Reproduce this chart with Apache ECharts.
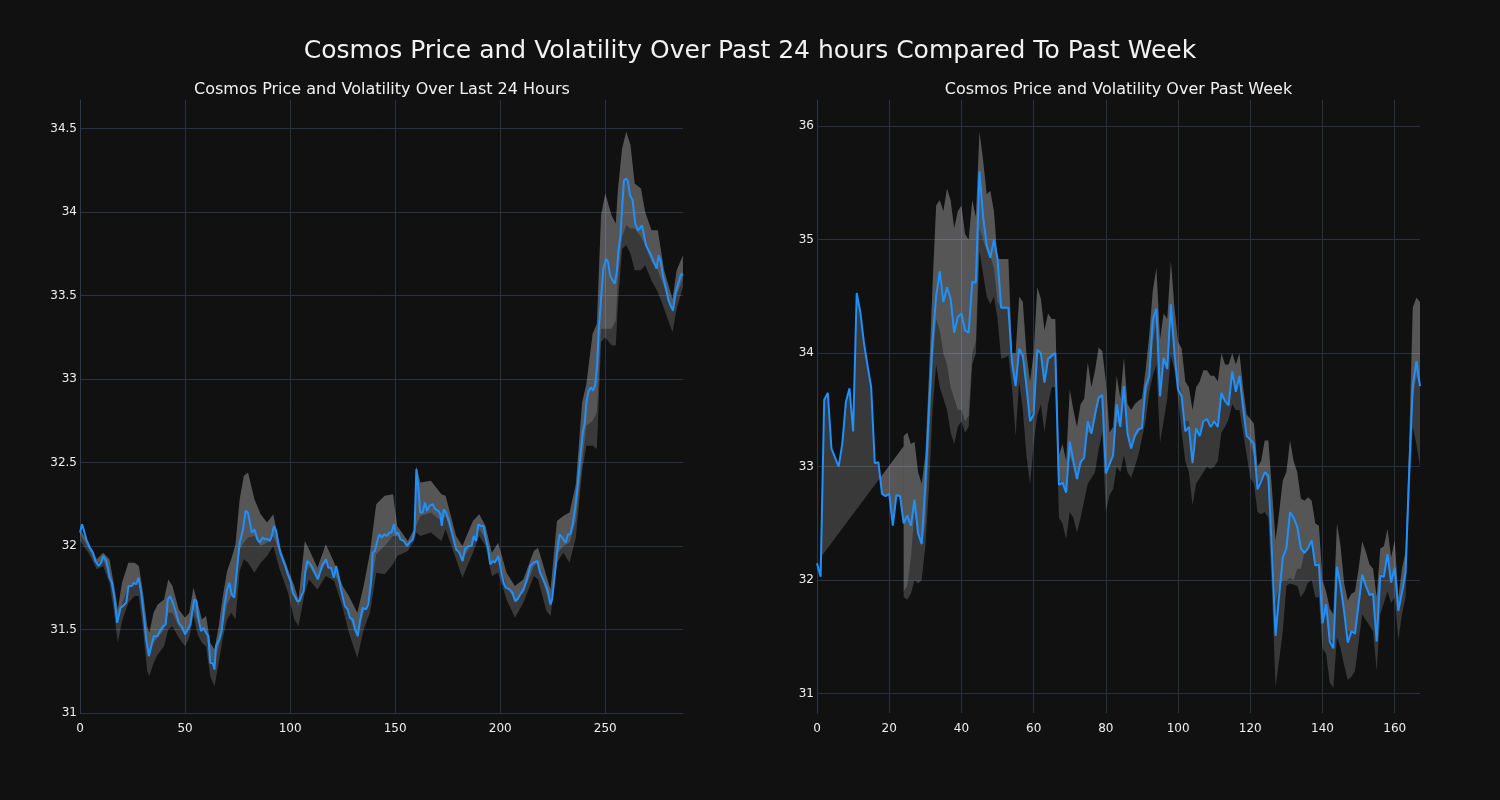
<!DOCTYPE html>
<html>
<head>
<meta charset="utf-8">
<script src="https://cdn.jsdelivr.net/npm/echarts@6/dist/echarts.min.js"></script>
<style>
html,body{margin:0;padding:0;background:#111111;}
#chart{width:1500px;height:800px;}
</style>
</head>
<body>
<div id="chart"></div>
<script>
// ---------- Titles ----------
const mainTitle = 'Cosmos Price and Volatility Over Past 24 hours Compared To Past Week';
const dayTitle = 'Cosmos Price and Volatility Over Last 24 Hours';
const weekTitle = 'Cosmos Price and Volatility Over Past Week';

// ---------- Tick labels ----------
const dayXTicks = [0, 50, 100, 150, 200, 250];
const dayYTicks = [31, 31.5, 32, 32.5, 33, 33.5, 34, 34.5];
const weekXTicks = [0, 20, 40, 60, 80, 100, 120, 140, 160];
const weekYTicks = [31, 32, 33, 34, 35, 36];

// ---------- Last 24 hours (5-minute steps) ----------
const dayX = [0,1,1.9,3,4.6,6.2,7.3,8.9,10.1,11.1,12.5,14.1,15.2,16.5,17.7,18.4,19.3,20.4,22,23.1,24.7,25.6,26.7,27.9,29.1,30.4,31.5,32.8,33.9,35.1,36.7,38,39.6,40.8,41.8,42.9,44.2,45.7,47,48.4,50,51.3,52.5,53.7,54.4,55.4,56.3,57.6,58.9,60,61.1,62,63.2,64,64.7,66.3,67.4,68.7,70,71.1,72.2,73.4,74.9,76,77.6,78.8,79.9,81.2,81.8,83.1,84.4,85.6,86.9,88.2,89.4,90.4,91.3,92.3,93.4,94.2,95.3,96.5,97.7,98.9,100.2,101.3,102.1,103.4,104.5,105.3,106.4,107.2,108.1,109.7,111,112.1,113.2,114.4,115.5,117.1,118.2,119.5,120.8,121.9,123,124.2,125,126.1,127.4,128.5,129.8,130.9,132.2,133.4,134.5,136.1,137.2,138.5,139.3,140.4,141.7,142.5,143.6,144.8,146.1,147.2,148.3,149.4,150.3,151.3,152.5,154.1,155.7,156.8,158.4,159.2,160.1,161.1,161.9,163.1,164.2,165.2,166.3,167.9,169.1,170.6,171.5,172.2,173.1,174.2,175.8,177.4,179,180.5,182.1,183.2,184.8,186.4,187.4,188.5,189.6,190.8,192.1,193.2,194.3,195.3,196.4,197.5,199.1,200.3,201.6,202.7,204.3,205.9,207.1,208.2,209.5,211.1,212.7,214.3,215.8,217.7,219,220.8,222.4,223.9,224.7,226,227.1,228.2,229.5,230.3,231.1,232.3,233.4,234.5,235.8,237.1,238.2,239.3,240.2,241,242.1,243.2,244.2,245.3,246.1,246.9,248,249.1,250.4,251.3,252.3,253.5,254.5,255.4,256.4,257.2,258,258.9,259.9,260.8,261.8,263,264.3,265.6,266.5,267.5,268.4,269.4,270.6,272.2,273.5,274.4,275.4,276.3,277.6,278.9,280.1,281.4,282.3,283.3,284.2,285.2,286.1,287];
const dayPrice = [32.08,32.13,32.14,32.04,31.99,31.96,31.91,31.88,31.9,31.94,31.91,31.81,31.78,31.68,31.54,31.54,31.63,31.64,31.66,31.76,31.76,31.78,31.77,31.81,31.72,31.58,31.44,31.34,31.4,31.46,31.46,31.49,31.52,31.53,31.68,31.7,31.66,31.6,31.54,31.52,31.47,31.5,31.53,31.63,31.68,31.67,31.57,31.49,31.51,31.48,31.46,31.3,31.3,31.26,31.4,31.44,31.49,31.64,31.74,31.78,31.71,31.69,31.88,32.02,32.1,32.21,32.2,32.12,32.08,32.1,32.04,32.02,32.05,32.04,32.04,32.03,32.06,32.12,32.09,32.03,31.96,31.92,31.88,31.83,31.79,31.72,31.71,31.67,31.67,31.7,31.73,31.84,31.91,31.89,31.86,31.83,31.8,31.85,31.89,31.92,31.87,31.87,31.81,31.88,31.82,31.74,31.74,31.64,31.62,31.57,31.56,31.5,31.46,31.56,31.63,31.62,31.65,31.78,31.96,31.97,32.04,32.07,32.05,32.07,32.06,32.08,32.08,32.13,32.07,32.08,32.04,32.03,32.0,32.02,32.04,32.09,32.46,32.34,32.2,32.2,32.26,32.21,32.24,32.25,32.22,32.21,32.19,32.12,32.22,32.2,32.14,32.06,31.98,31.96,31.91,31.98,32.0,32.0,32.06,32.03,32.13,32.12,32.12,32.04,31.98,31.89,31.91,31.9,31.94,31.86,31.78,31.75,31.74,31.72,31.67,31.68,31.71,31.74,31.8,31.88,31.9,31.91,31.84,31.79,31.74,31.65,31.68,31.83,31.96,32.07,32.05,32.05,32.02,32.07,32.07,32.13,32.24,32.39,32.54,32.68,32.73,32.86,32.93,32.95,32.93,32.97,33.08,33.29,33.48,33.66,33.72,33.7,33.62,33.59,33.57,33.63,33.78,33.85,34.02,34.19,34.2,34.18,34.1,34.07,33.93,33.89,33.88,33.92,33.92,33.8,33.77,33.73,33.69,33.66,33.74,33.71,33.61,33.54,33.47,33.43,33.41,33.51,33.52,33.59,33.63,33.62];

const dayBandX = [0,4,8,11,14,16,18,20,23,26,28,30,32,33,35,37,40,42,44,47,50,52,54,56,58,60,62,64,66,68,70,72,74,76,78,80,83,86,89,92,95,99,102,104,107,109,113,117,121,125,128,132,135,138,141,145,149,151,156,159,160,162,167,172,174,179,182,187,190,193,196,199,203,207,211,216,218,222,224,227,230,233,236,239,241,244,246,248,250,253,255,256,258,260,262,264,267,269,272,275,278,282,284,287];
const dayBandUpper = [32.1,32.02,31.92,31.96,31.92,31.78,31.62,31.78,31.9,31.9,31.88,31.72,31.52,31.48,31.6,31.65,31.68,31.8,31.76,31.62,31.57,31.6,31.75,31.66,31.56,31.58,31.42,31.38,31.52,31.7,31.85,31.92,32.01,32.28,32.42,32.44,32.28,32.19,32.14,32.19,32.0,31.86,31.76,31.68,32.03,31.98,31.87,32.01,31.9,31.76,31.7,31.6,31.76,31.96,32.25,32.3,32.31,32.12,32.03,32.1,32.48,32.38,32.39,32.31,32.3,32.06,32.0,32.15,32.19,32.12,31.96,32.02,31.84,31.76,31.8,31.97,31.99,31.82,31.74,32.15,32.18,32.2,32.37,32.86,32.97,33.27,33.33,33.98,34.11,33.98,33.93,34.13,34.38,34.48,34.4,34.17,34.14,34.0,33.89,33.89,33.65,33.48,33.65,33.74];
const dayBandMid = [32.07,31.99,31.89,31.92,31.83,31.7,31.55,31.65,31.76,31.78,31.8,31.62,31.38,31.35,31.42,31.45,31.5,31.6,31.6,31.52,31.47,31.5,31.62,31.55,31.5,31.48,31.32,31.3,31.4,31.52,31.65,31.7,31.72,31.98,32.02,32.05,32.06,32.0,32.02,32.06,31.96,31.82,31.7,31.64,31.82,31.88,31.8,31.9,31.84,31.72,31.58,31.46,31.6,31.7,31.95,32.0,32.06,32.06,32.0,32.05,32.12,32.18,32.2,32.15,32.18,31.98,31.92,32.02,32.1,32.04,31.9,31.92,31.76,31.67,31.72,31.88,31.9,31.72,31.66,31.95,32.0,32.02,32.15,32.5,32.72,32.75,32.8,33.3,33.3,33.3,33.35,33.6,33.85,33.92,33.9,33.9,33.85,33.8,33.7,33.65,33.55,33.4,33.5,33.6];
const dayBandLower = [32.03,31.96,31.86,31.88,31.78,31.62,31.42,31.55,31.66,31.7,31.7,31.5,31.25,31.22,31.3,31.35,31.4,31.5,31.52,31.45,31.4,31.45,31.58,31.47,31.42,31.4,31.22,31.16,31.3,31.45,31.56,31.6,31.56,31.85,31.92,31.9,31.84,31.9,31.94,32.0,31.86,31.72,31.56,31.52,31.72,31.8,31.74,31.82,31.79,31.63,31.48,31.33,31.5,31.6,31.84,31.83,31.89,31.94,31.97,32.03,32.08,32.06,32.08,32.03,32.1,31.92,31.81,31.96,32.06,32.0,31.82,31.84,31.68,31.57,31.66,31.82,31.8,31.61,31.58,31.9,31.96,31.9,32.05,32.45,32.6,32.6,32.58,33.22,33.25,33.2,33.2,33.44,33.78,33.8,33.75,33.65,33.65,33.68,33.59,33.52,33.42,33.28,33.42,33.55];

// ---------- Past week (hourly steps, x = hour index) ----------
const weekPrice = [32.15,32.03,33.59,33.65,33.16,33.08,33.0,33.2,33.57,33.69,33.31,34.53,34.36,34.09,33.89,33.7,33.03,33.04,32.76,32.74,32.76,32.48,32.75,32.74,32.5,32.57,32.48,32.71,32.41,32.32,32.85,33.5,34.1,34.5,34.72,34.45,34.58,34.48,34.18,34.32,34.35,34.2,34.18,34.63,34.62,35.6,35.2,34.95,34.84,35.0,34.83,34.4,34.4,34.4,33.92,33.71,34.04,33.98,33.71,33.4,33.46,34.03,34.0,33.74,33.95,33.98,34.0,32.84,32.86,32.77,33.22,33.05,32.89,33.04,33.08,33.4,33.29,33.46,33.61,33.63,32.94,33.02,33.1,33.55,33.35,33.71,33.29,33.16,33.27,33.33,33.34,33.71,33.79,34.3,34.39,33.62,33.96,33.86,34.43,34.0,33.68,33.62,33.31,33.35,33.03,33.34,33.27,33.4,33.42,33.35,33.4,33.35,33.65,33.58,33.54,33.84,33.66,33.8,33.52,33.27,33.24,33.2,32.8,32.87,32.95,32.92,32.25,31.51,31.87,32.2,32.28,32.6,32.55,32.47,32.28,32.24,32.28,32.35,32.13,32.14,31.62,31.79,31.46,31.4,32.12,31.95,31.72,31.45,31.55,31.53,31.79,32.05,31.95,31.87,31.88,31.46,32.04,32.03,32.23,31.98,32.11,31.73,31.89,32.07,32.95,33.71,33.93,33.71];

// band exists from hour 24 onward; before that a straight edge joins hour 1 to hour 24
const weekBandFirstHour = 24;
const weekBandUpper = [33.27,33.3,33.2,33.22,32.95,32.85,33.1,33.8,34.6,35.3,35.35,35.25,35.45,35.35,35.1,35.25,35.3,35.05,35.0,35.35,35.2,35.95,35.7,35.4,35.43,35.25,34.83,34.83,34.83,34.83,34.0,34.0,34.5,34.45,34.0,33.75,34.0,34.58,34.48,34.2,34.35,34.3,34.3,33.1,33.2,33.05,33.68,33.5,33.35,33.55,33.6,33.92,33.7,33.85,34.05,34.02,33.75,33.3,33.35,33.8,33.6,33.96,33.55,33.5,33.55,33.58,33.6,33.85,34.15,34.55,34.75,34.12,34.35,34.3,34.81,34.4,34.1,34.04,33.75,33.7,33.5,33.7,33.75,33.85,33.85,33.8,33.8,33.75,34.0,33.9,33.9,34.0,33.9,34.0,33.7,33.46,33.42,33.38,33.0,33.05,33.23,33.23,32.8,32.35,32.6,32.88,32.95,33.23,33.05,32.95,32.72,32.7,32.73,32.7,32.5,32.48,32.0,31.9,31.75,31.7,32.5,32.3,31.97,31.82,31.88,31.9,32.1,32.34,32.25,32.14,32.1,31.85,32.28,32.3,32.45,32.2,32.35,31.85,32.1,32.25,33.2,34.4,34.49,34.45];
const weekBandMid = [31.9,31.95,32.2,32.6,32.4,32.3,32.5,33.2,33.9,34.3,34.2,34.0,33.9,33.7,33.6,33.5,33.5,33.4,33.45,34.0,34.1,35.1,35.0,34.9,34.85,34.75,34.45,34.4,34.4,34.4,33.9,33.75,34.0,33.95,33.7,33.45,33.5,34.0,34.0,33.8,33.95,33.95,34.0,32.9,32.85,32.8,33.1,33.0,32.9,33.0,33.1,33.3,33.3,33.4,33.6,33.6,33.0,33.0,33.1,33.4,33.35,33.6,33.3,33.2,33.25,33.3,33.35,33.6,33.75,34.1,34.3,33.7,33.9,33.9,34.3,34.0,33.75,33.65,33.4,33.4,33.1,33.35,33.3,33.4,33.42,33.38,33.4,33.4,33.6,33.58,33.55,33.8,33.68,33.75,33.5,33.3,33.2,33.1,32.85,32.9,32.95,32.85,32.4,31.8,31.95,32.0,32.0,32.02,32.0,32.1,32.1,32.25,32.28,32.35,32.15,32.15,31.65,31.7,31.5,31.45,32.1,31.9,31.75,31.55,31.55,31.55,31.8,32.0,31.95,31.88,31.85,31.5,32.05,32.05,32.2,32.0,32.1,31.73,31.9,32.05,32.95,33.6,33.8,33.7];
const weekBandLower = [31.85,31.83,31.88,32.0,31.97,32.0,32.3,32.8,33.5,33.9,33.7,33.6,33.5,33.3,33.2,33.35,33.4,33.3,33.35,33.9,34.0,34.9,34.7,34.5,34.43,34.5,34.3,33.95,33.96,33.98,33.7,33.27,33.75,33.5,33.1,32.85,33.2,33.45,33.55,33.3,33.55,33.7,33.7,32.55,32.5,32.36,32.6,32.55,32.42,32.55,32.7,32.85,32.9,32.95,33.15,33.3,32.6,32.75,32.8,33.0,32.95,33.1,32.95,32.9,33.0,33.1,33.25,33.4,33.65,33.8,33.9,33.21,33.4,33.6,33.98,33.85,33.6,33.3,33.05,32.95,32.66,32.85,32.9,32.95,33.0,32.98,33.0,33.05,33.3,33.35,33.42,33.55,33.5,33.5,33.3,33.1,32.9,32.85,32.6,32.58,32.6,32.55,31.9,31.06,31.3,31.55,31.95,31.97,31.96,31.95,31.85,31.9,31.98,32.0,31.85,31.85,31.4,31.35,31.1,31.05,31.5,31.4,31.25,31.12,31.15,31.2,31.45,31.7,31.65,31.6,31.55,31.2,31.7,31.8,31.9,31.8,31.85,31.47,31.7,31.85,32.7,33.35,33.2,33.0];
// straight edge of the early band section: [hour, price]
const weekGapStart = [1, 32.2];
const weekGapEnd = [24, 33.18];
const weekGapCross = [17.5, 32.9];

// ---------- Build ----------
const FONT = 'DejaVu Sans';
const LINE = '#1e90ff';
const GRIDC = '#293141';
const BAND_DARK = 'rgba(255,255,255,0.17)';
const BAND_LIGHT = 'rgba(255,255,255,0.15)';

function polySeries(idx, buildPts, fill, z) {
  return {
    type: 'custom', xAxisIndex: idx, yAxisIndex: idx, silent: true, z: z,
    data: [[0, 0]],
    renderItem: function (params, api) {
      const pts = buildPts().map(p => api.coord(p));
      return { type: 'polygon', shape: { points: pts }, style: { fill: fill } };
    }
  };
}
function bandPts(xs, lo, hi) {
  return function () {
    const p = [];
    for (let k = 0; k < xs.length; k++) p.push([xs[k], hi[k]]);
    for (let k = xs.length - 1; k >= 0; k--) p.push([xs[k], lo[k]]);
    return p;
  };
}

const weekBandX = weekBandUpper.map((_, k) => weekBandFirstHour + k);
const weekPts = weekPrice.map((v, i) => [i, v]);
const dayPts = dayPrice.map((v, k) => [dayX[k], v]);

function gapDark() {
  const p = [weekGapStart, weekGapEnd];
  for (let i = weekGapEnd[0]; i >= weekGapStart[0]; i--) p.push([i, weekPrice[i]]);
  return p;
}
function gapLight() {
  const p = [weekGapCross, weekGapEnd];
  for (let i = weekGapEnd[0]; i > weekGapCross[0]; i--) p.push([i, weekPrice[i]]);
  return p;
}

function xAxisCfg(idx, max, ticks) {
  return {
    type: 'value', gridIndex: idx, min: 0, max: max,
    axisLine: { show: false },
    axisTick: { show: false, customValues: ticks },
    axisLabel: { customValues: ticks, color: '#eeeeee', fontFamily: FONT, fontSize: 12, margin: 10 },
    splitLine: { show: true, lineStyle: { color: GRIDC, width: 1 } }
  };
}
function yAxisCfg(idx, min, max, ticks) {
  return {
    type: 'value', gridIndex: idx, min: min, max: max,
    axisLine: { show: true, onZero: false, lineStyle: { color: '#2f3848', width: 1 } },
    axisTick: { show: false, customValues: ticks },
    axisLabel: { customValues: ticks, color: '#eeeeee', fontFamily: FONT, fontSize: 12, margin: 3 },
    splitLine: { show: true, lineStyle: { color: GRIDC, width: 1 } }
  };
}

const chart = echarts.init(document.getElementById('chart'), null, { renderer: 'canvas' });
chart.setOption({
  backgroundColor: '#111111',
  animation: false,
  title: [
    { text: mainTitle, left: 745, top: 34, textAlign: 'center',
      textStyle: { color: '#f2f2f2', fontFamily: FONT, fontSize: 25, fontWeight: 'normal' } },
    { text: dayTitle, left: 377, top: 77, textAlign: 'center',
      textStyle: { color: '#f2f2f2', fontFamily: FONT, fontSize: 16, fontWeight: 'normal' } },
    { text: weekTitle, left: 1113.5, top: 77, textAlign: 'center',
      textStyle: { color: '#f2f2f2', fontFamily: FONT, fontSize: 16, fontWeight: 'normal' } }
  ],
  grid: [
    { left: 80, top: 100, width: 603, height: 613 },
    { left: 817, top: 100, width: 603, height: 613 }
  ],
  xAxis: [ xAxisCfg(0, 287, dayXTicks), xAxisCfg(1, 167, weekXTicks) ],
  yAxis: [ yAxisCfg(0, 31, 34.67, dayYTicks), yAxisCfg(1, 30.83, 36.23, weekYTicks) ],
  series: [
    polySeries(0, bandPts(dayBandX, dayBandLower, dayBandUpper), BAND_DARK, 1),
    polySeries(0, bandPts(dayBandX, dayBandMid, dayBandUpper), BAND_LIGHT, 2),
    { type: 'line', xAxisIndex: 0, yAxisIndex: 0, data: dayPts, showSymbol: false, z: 5,
      lineStyle: { color: LINE, width: 2 }, silent: true },

    polySeries(1, gapDark, BAND_DARK, 1),
    polySeries(1, gapLight, BAND_LIGHT, 2),
    polySeries(1, bandPts(weekBandX, weekBandLower, weekBandUpper), BAND_DARK, 1),
    polySeries(1, bandPts(weekBandX, weekBandMid, weekBandUpper), BAND_LIGHT, 2),
    { type: 'line', xAxisIndex: 1, yAxisIndex: 1, data: weekPts, showSymbol: false, z: 5,
      lineStyle: { color: LINE, width: 2 }, silent: true }
  ]
});
</script>
</body>
</html>
